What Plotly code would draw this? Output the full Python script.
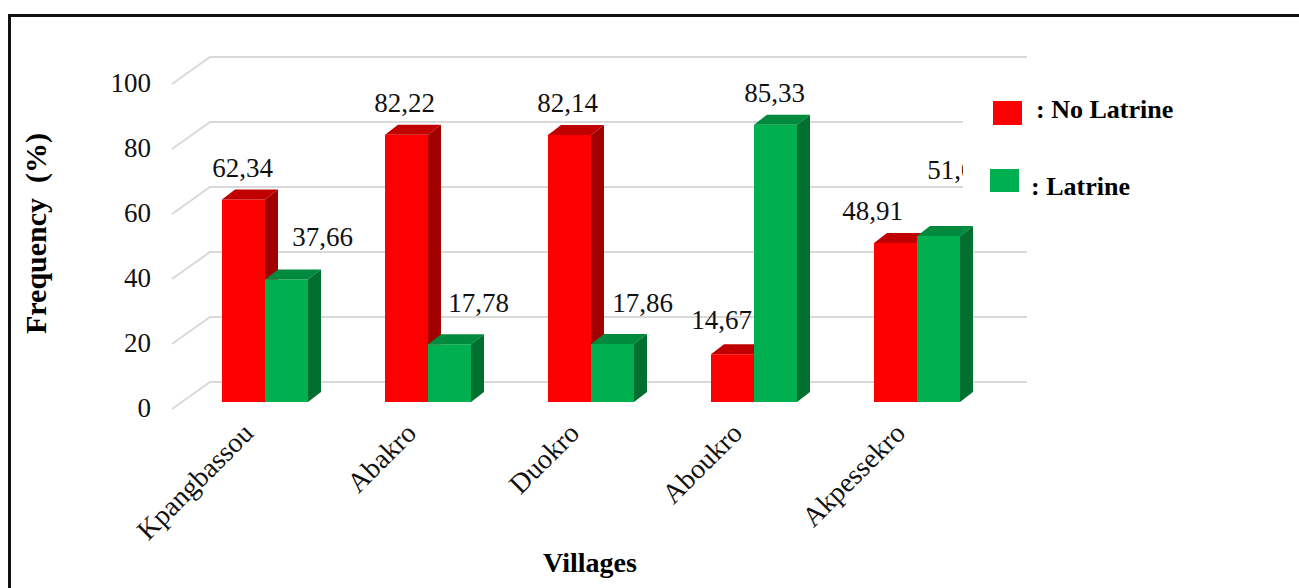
import plotly.graph_objects as go

# ---------------- data ----------------
villages = ["Kpangbassou", "Abakro", "Duokro", "Aboukro", "Akpessekro"]
no_latrine = [62.34, 82.22, 82.14, 14.67, 48.91]
latrine = [37.66, 17.78, 17.86, 85.33, 51.09]
y_ticks = [0, 20, 40, 60, 80, 100]

# label offsets (pixels, style only)
red_lbl_dx = [-1, -2, -2, -11, -23]
red_lbl_dy = [29, 30, 30, 32, 30]
grn_lbl_dx = [36, 29, 30, -1, 19]
grn_lbl_dy = [40, 39, 39, 29, 64]

# ---------------- geometry / style ----------------
W, H = 1299, 588
L, R, T, B = 152, 1040, 40, 410
PX_PER_CAT = 163.0
PX_PER_UNIT = 3.25
X0_PX = 265.0
Y0_PX = 402.0
FONT = "Liberation Serif, Times New Roman, serif"

RED, RED_TOP, RED_SIDE = "#FF0000", "#C00000", "#A00000"
GRN, GRN_TOP, GRN_SIDE = "#00B050", "#008A3E", "#006F30"


def ux(px):
    return px / PX_PER_CAT


def uy(px):
    return px / PX_PER_UNIT


def paper_x(px):
    return (px - L) / (R - L)


def paper_y(py):
    return (B - py) / (B - T)


def fmt(v):
    return f"{v:.2f}".replace(".", ",")


BW = ux(43)
DX, DY = ux(13), uy(10)

x_range = [ux(L - X0_PX), ux(R - X0_PX)]
y_range = [uy(Y0_PX - B), uy(Y0_PX - T)]


def clip_above(poly, g):
    out = []
    n = len(poly)
    for k in range(n):
        p, q = poly[k], poly[(k + 1) % n]
        pin, qin = p[1] >= g, q[1] >= g
        if pin:
            out.append(p)
        if pin != qin:
            t = (g - p[1]) / (q[1] - p[1])
            out.append((p[0] + t * (q[0] - p[0]), g))
    return out


def poly_trace(poly, color):
    if len(poly) < 3:
        return None
    xs = [p[0] for p in poly] + [poly[0][0]]
    ys = [p[1] for p in poly] + [poly[0][1]]
    return go.Scatter(x=xs, y=ys, mode="lines", fill="toself", fillcolor=color,
                      line=dict(width=0, color=color), hoverinfo="skip", showlegend=False)


fig = go.Figure()
idx = list(range(len(villages)))

# front faces
fig.add_trace(go.Bar(x=idx, y=no_latrine, width=BW, offset=-BW, name="No Latrine",
                     marker=dict(color=RED, line=dict(width=0)), showlegend=False))
fig.add_trace(go.Bar(x=idx, y=latrine, width=BW, offset=0, name="Latrine",
                     marker=dict(color=GRN, line=dict(width=0)), showlegend=False))

# 3D faces
for i in idx:
    r, g = no_latrine[i], latrine[i]
    xl, xr = i - BW, i
    polys = []
    polys.append(([(xl, r), (xl + DX, r + DY), (xr, r + DY), (xr, r)], RED_TOP))
    polys.append((clip_above([(xr, 0), (xr + DX, DY), (xr + DX, r + DY), (xr, r)], g), RED_SIDE))
    polys.append((clip_above([(xr, r), (xr, r + DY), (xr + DX, r + DY)], g), RED_TOP))
    gl, gr = i, i + BW
    polys.append(([(gl, g), (gl + DX, g + DY), (gr + DX, g + DY), (gr, g)], GRN_TOP))
    polys.append(([(gr, 0), (gr + DX, DY), (gr + DX, g + DY), (gr, g)], GRN_SIDE))
    for poly, col in polys:
        tr = poly_trace(poly, col)
        if tr is not None:
            fig.add_trace(tr)

# data labels
lx, ly, lt = [], [], []
for i in idx:
    lx.append(i - BW / 2 + ux(red_lbl_dx[i]))
    ly.append(no_latrine[i] + uy(red_lbl_dy[i]))
    lt.append(fmt(no_latrine[i]))
    lx.append(i + BW / 2 + ux(grn_lbl_dx[i]))
    ly.append(latrine[i] + uy(grn_lbl_dy[i]))
    lt.append(fmt(latrine[i]))
fig.add_trace(go.Scatter(x=lx, y=ly, text=lt, mode="text", textposition="middle center",
                         textfont=dict(family=FONT, size=27, color="#111111"),
                         hoverinfo="skip", showlegend=False))

shapes = []
# back-wall gridlines with depth diagonals
for v in y_ticks:
    x1, y1 = ux(172 - X0_PX), v - uy(7)
    x2, y2 = ux(210 - X0_PX), v + uy(20)
    x3 = ux(1027 - X0_PX)
    shapes.append(dict(type="path", xref="x", yref="y", layer="below",
                       path=f"M{x1},{y1} L{x2},{y2} L{x3},{y2}",
                       line=dict(color="#D9D9D9", width=2)))

# legend box (white) covering part of chart
shapes.append(dict(type="rect", xref="paper", yref="paper", layer="above",
                   x0=paper_x(963), x1=paper_x(1210), y0=paper_y(212), y1=paper_y(96),
                   fillcolor="white", line=dict(width=0)))
shapes.append(dict(type="rect", xref="paper", yref="paper", layer="above",
                   x0=paper_x(993), x1=paper_x(1022), y0=paper_y(125), y1=paper_y(101),
                   fillcolor=RED, line=dict(width=0)))
shapes.append(dict(type="rect", xref="paper", yref="paper", layer="above",
                   x0=paper_x(990), x1=paper_x(1019), y0=paper_y(192), y1=paper_y(169),
                   fillcolor=GRN, line=dict(width=0)))
# outer frame
shapes.append(dict(type="rect", xref="paper", yref="paper", layer="above",
                   x0=paper_x(9.5), x1=paper_x(1320), y0=paper_y(610), y1=paper_y(15.5),
                   fillcolor="rgba(0,0,0,0)", line=dict(color="#111111", width=3)))

annotations = [
    dict(text="<b>: No Latrine</b>", xref="paper", yref="paper", x=paper_x(1034), y=paper_y(110),
         xanchor="left", yanchor="middle", showarrow=False,
         font=dict(family=FONT, size=26, color="#000000")),
    dict(text="<b>: Latrine</b>", xref="paper", yref="paper", x=paper_x(1029), y=paper_y(186),
         xanchor="left", yanchor="middle", showarrow=False,
         font=dict(family=FONT, size=26, color="#000000")),
    dict(text="<b>Frequency\u00a0\u00a0(%)</b>", xref="paper", yref="paper", x=paper_x(36), y=paper_y(234),
         xanchor="center", yanchor="middle", textangle=-90, showarrow=False,
         font=dict(family=FONT, size=30, color="#000000")),
    dict(text="<b>Villages</b>", xref="paper", yref="paper", x=paper_x(590), y=paper_y(562),
         xanchor="center", yanchor="middle", showarrow=False,
         font=dict(family=FONT, size=28, color="#000000")),
]

fig.update_layout(
    width=W, height=H,
    margin=dict(l=L, r=W - R, t=T, b=H - B, pad=0),
    paper_bgcolor="white", plot_bgcolor="white",
    barmode="overlay",
    showlegend=False,
    shapes=shapes,
    annotations=annotations,
    xaxis=dict(range=x_range, tickmode="array", tickvals=idx, ticktext=villages,
               tickangle=-45, showgrid=False, zeroline=False, showline=False, ticks="",
               ticklabelshift=-20,
               tickfont=dict(family=FONT, size=28, color="#111111"), fixedrange=True),
    yaxis=dict(range=y_range, tickmode="array", tickvals=[v - uy(6) for v in y_ticks],
               ticktext=[str(v) for v in y_ticks], showgrid=False, zeroline=False,
               showline=False, ticks="", tickfont=dict(family=FONT, size=27, color="#111111"),
               fixedrange=True),
)

fig.write_html("out.html")
